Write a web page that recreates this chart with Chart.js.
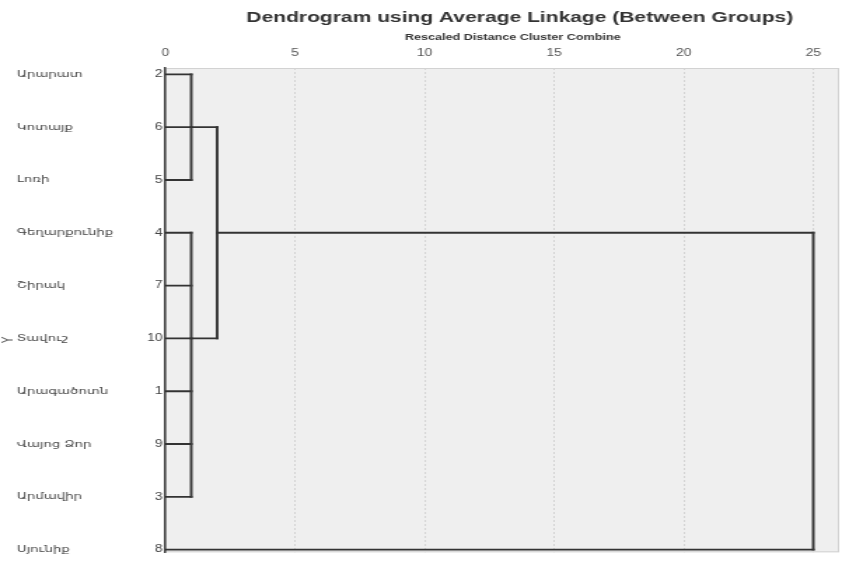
<!DOCTYPE html>
<html>
<head>
<meta charset="utf-8">
<script src="https://cdn.jsdelivr.net/npm/chart.js@4"></script>
<style>
  body { margin: 0; background: #fff; overflow: hidden; }
  /* the reference is stretched sideways, so the chart is drawn narrow and widened */
  #wrap { width: 601px; height: 561px; transform: scaleX(1.401); transform-origin: 0 0; }
</style>
</head>
<body>
<div id="wrap"><canvas id="chart" width="601" height="561"></canvas></div>
<script>
const caseNames = ["Արարատ", "Կոտայք", "Լոռի", "Գեղարքունիք", "Շիրակ", "Տավուշ", "Արագածոտն", "Վայոց Ձոր", "Արմավիր", "Սյունիք"];
const caseNumbers = [2, 6, 5, 4, 7, 10, 1, 9, 3, 8];
// distance where each case first joins a cluster
const leafHeights = [1, 1, 1, 1, 1, 1, 1, 1, 1, 25];
// clusters: first/last row spanned, join distance, row of outgoing line, parent distance
const clusterTop = [0, 3, 1, 3];
const clusterBottom = [2, 8, 5, 9];
const clusterHeight = [1, 1, 2, 25];
const clusterRow = [1, 5, 3, null];
const clusterParent = [2, 2, 25, null];
const distTicks = [0, 5, 10, 15, 20, 25];

const lineColor = "#333";
const segments = [];
caseNames.forEach((n, i) => {
  segments.push([{ x: 0, y: i }, { x: leafHeights[i], y: i }]);
});
clusterHeight.forEach((h, c) => {
  segments.push([{ x: h, y: clusterTop[c] }, { x: h, y: clusterBottom[c] }]);
  if (clusterParent[c] !== null) {
    segments.push([{ x: h, y: clusterRow[c] }, { x: clusterParent[c], y: clusterRow[c] }]);
  }
});

const rowTicks = (scale) => {
  scale.ticks = caseNumbers.map((_, i) => ({ value: i }));
};

const decor = {
  id: "decor",
  beforeDraw(chart) {
    const { ctx, chartArea: a } = chart;
    ctx.save();
    ctx.fillStyle = "#efefef";
    ctx.fillRect(a.left, a.top, a.right - a.left, a.bottom - a.top);
    ctx.strokeStyle = "#d2d2d2";
    ctx.lineWidth = 1;
    ctx.strokeRect(a.left + 0.5, a.top + 0.5, a.right - a.left - 1, a.bottom - a.top - 1);
    ctx.restore();
  },
  afterDraw(chart) {
    const { ctx } = chart;
    ctx.save();
    ctx.fillStyle = "#333";
    ctx.textAlign = "center";
    ctx.textBaseline = "middle";
    ctx.font = "bold 15px 'Liberation Sans', Arial, sans-serif";
    ctx.fillText("Dendrogram using Average Linkage (Between Groups)", 371, 18);
    ctx.font = "bold 9px 'Liberation Sans', Arial, sans-serif";
    ctx.fillText("Rescaled Distance Cluster Combine", 366, 38);
    ctx.translate(6, 340);
    ctx.rotate(-Math.PI / 2);
    ctx.fillStyle = "#555";
    ctx.font = "10px 'Liberation Sans', Arial, sans-serif";
    ctx.fillText("Y", 0, 0);
    ctx.restore();
  },
};

new Chart(document.getElementById("chart"), {
  type: "scatter",
  data: {
    datasets: segments.map((s) => ({
      data: s,
      showLine: true,
      borderColor: lineColor,
      borderWidth: 1.9,
      borderCapStyle: "square",
      pointRadius: 0,
      fill: false,
    })),
  },
  options: {
    responsive: false,
    devicePixelRatio: 1,
    animation: false,
    layout: { padding: { top: 44, left: 12, right: 2, bottom: 8 } },
    plugins: {
      legend: { display: false },
      tooltip: { enabled: false },
    },
    scales: {
      x: {
        type: "linear",
        position: "top",
        min: 0,
        max: 26,
        afterBuildTicks: (scale) => {
          scale.ticks = distTicks.map((v) => ({ value: v }));
        },
        afterFit: (scale) => {
          scale.height = 24;
        },
        ticks: {
          padding: 9,
          color: "#555",
          font: { family: "'Liberation Sans', Arial, sans-serif", size: 10 },
        },
        grid: {
          drawTicks: false,
          color: (c) => (c.tick && c.tick.value === 0 ? "rgba(0,0,0,0)" : "#d4d4d4"),
          lineWidth: 1,
        },
        border: { display: false, dash: [2, 2] },
      },
      y: {
        type: "linear",
        min: -0.12,
        max: 9.05,
        reverse: true,
        weight: 0,
        afterBuildTicks: rowTicks,
        afterFit: (scale) => {
          scale.width = 20;
        },
        ticks: {
          padding: 2,
          color: "#444",
          font: { family: "'Liberation Sans', Arial, sans-serif", size: 10 },
          callback: (v) => caseNumbers[Math.round(v)],
        },
        grid: { display: false, drawTicks: false },
        border: { display: true, color: "#3a3a3a", width: 1.5 },
      },
      yn: {
        type: "linear",
        position: "left",
        min: -0.12,
        max: 9.05,
        reverse: true,
        weight: 1,
        afterBuildTicks: rowTicks,
        afterFit: (scale) => {
          scale.width = 86;
        },
        ticks: {
          crossAlign: "far",
          color: "#444",
          font: { family: "'DejaVu Sans', sans-serif", size: 9.5 },
          callback: (v) => caseNames[Math.round(v)],
        },
        grid: { display: false, drawTicks: false },
        border: { display: false },
      },
    },
  },
  plugins: [decor],
});
</script>
</body>
</html>
